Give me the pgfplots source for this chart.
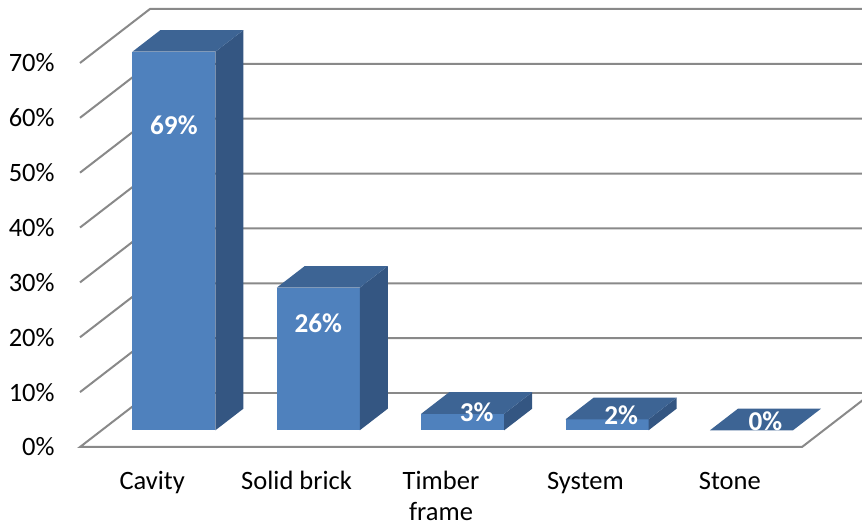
\documentclass[border=0pt]{standalone}
\usepackage{pgfplots}
\pgfplotsset{compat=1.18}
\usepackage{fontspec}
\setmainfont{Carlito}

\definecolor{barfront}{HTML}{4F81BD}
\definecolor{bartop}{HTML}{3D6494}
\definecolor{barside}{HTML}{345682}
\definecolor{gridgray}{HTML}{898989}

\tikzset{
  catlabel/.style={anchor=base, inner sep=0pt, text=black,
    font=\fontsize{13.25pt}{15pt}\selectfont},
  ticklabel/.style={anchor=east, inner sep=0pt, text=black,
    font=\fontsize{13.25pt}{15pt}\selectfont},
  vallabel/.style={anchor=center, inner sep=0pt, text=white,
    font=\fontsize{13.6pt}{15pt}\selectfont\bfseries},
  wall/.style={draw=gridgray, line width=1pt},
}

\begin{document}
\begin{tikzpicture}
\begin{axis}[
  % oblique projection: x = category, y = depth, z = share in percent
  x={(72.2pt,0pt)}, y={(35pt,27pt)}, z={(0pt,2.743pt)},
  xmin=0, xmax=5, ymin=0, ymax=1, zmin=0, zmax=70,
  hide axis, clip=false,
]
\coordinate (O) at (axis cs:0,0,0);

% floor, side wall and back wall grid
\draw[wall] (axis cs:0,1,0) -- (axis cs:0,0,0) -- (axis cs:5,0,0) -- (axis cs:5,1,0);
\draw[wall] (axis cs:0,1,0) -- (axis cs:5.3,1,0);
\pgfplotsinvokeforeach{10,20,...,70}{
  \draw[wall] (axis cs:0,0,#1) -- (axis cs:0,1,#1) -- (axis cs:5.3,1,#1);
}
\pgfplotsinvokeforeach{0,10,...,70}{
  \node[ticklabel] at (axis cs:0,0,#1) [xshift=-12.5pt] {#1\%};
}

% Cavity 69%
\addplot3[fill=barfront, draw=none] coordinates {(0.2125,0.31,0) (0.7875,0.31,0) (0.7875,0.31,69) (0.2125,0.31,69)};
\addplot3[fill=barside, draw=none] coordinates {(0.7875,0.31,0) (0.7875,0.71,0) (0.7875,0.71,69) (0.7875,0.31,69)};
\addplot3[fill=bartop, draw=none] coordinates {(0.2125,0.31,69) (0.7875,0.31,69) (0.7875,0.71,69) (0.2125,0.71,69)};
% Solid brick 26%
\addplot3[fill=barfront, draw=none] coordinates {(1.2125,0.31,0) (1.7875,0.31,0) (1.7875,0.31,26) (1.2125,0.31,26)};
\addplot3[fill=barside, draw=none] coordinates {(1.7875,0.31,0) (1.7875,0.71,0) (1.7875,0.71,26) (1.7875,0.31,26)};
\addplot3[fill=bartop, draw=none] coordinates {(1.2125,0.31,26) (1.7875,0.31,26) (1.7875,0.71,26) (1.2125,0.71,26)};
% Timber frame 3%
\addplot3[fill=barfront, draw=none] coordinates {(2.2125,0.31,0) (2.7875,0.31,0) (2.7875,0.31,3) (2.2125,0.31,3)};
\addplot3[fill=barside, draw=none] coordinates {(2.7875,0.31,0) (2.7875,0.71,0) (2.7875,0.71,3) (2.7875,0.31,3)};
\addplot3[fill=bartop, draw=none] coordinates {(2.2125,0.31,3) (2.7875,0.31,3) (2.7875,0.71,3) (2.2125,0.71,3)};
% System 2%
\addplot3[fill=barfront, draw=none] coordinates {(3.2125,0.31,0) (3.7875,0.31,0) (3.7875,0.31,2) (3.2125,0.31,2)};
\addplot3[fill=barside, draw=none] coordinates {(3.7875,0.31,0) (3.7875,0.71,0) (3.7875,0.71,2) (3.7875,0.31,2)};
\addplot3[fill=bartop, draw=none] coordinates {(3.2125,0.31,2) (3.7875,0.31,2) (3.7875,0.71,2) (3.2125,0.71,2)};
% Stone 0%
\addplot3[fill=bartop, draw=none] coordinates {(4.2125,0.31,0) (4.7875,0.31,0) (4.7875,0.71,0) (4.2125,0.71,0)};

% value labels
\node[vallabel] at (axis cs:0.5,0.31,55.6) {69\%};
\node[vallabel] at (axis cs:1.5,0.31,19.5) {26\%};
\node[vallabel] at (axis cs:2.5,0.51,1.4) {3\%};
\node[vallabel] at (axis cs:3.5,0.51,0.8) {2\%};
\node[vallabel] at (axis cs:4.5,0.51,-0.3) {0\%};

% category labels
\node[catlabel] at (axis cs:0.5,0,0) [yshift=-21pt] {Cavity};
\node[catlabel] at (axis cs:1.5,0,0) [yshift=-21pt] {Solid brick};
\node[catlabel] at (axis cs:2.5,0,0) [yshift=-21pt] {Timber};
\node[catlabel] at (axis cs:2.5,0,0) [yshift=-36.5pt] {frame};
\node[catlabel] at (axis cs:3.5,0,0) [yshift=-21pt] {System};
\node[catlabel] at (axis cs:4.5,0,0) [yshift=-21pt] {Stone};
\end{axis}
\pgfresetboundingbox
\path[use as bounding box, shift={(O)}] (-40pt,-38.5pt) rectangle (391pt,223.5pt);
\end{tikzpicture}
\end{document}
